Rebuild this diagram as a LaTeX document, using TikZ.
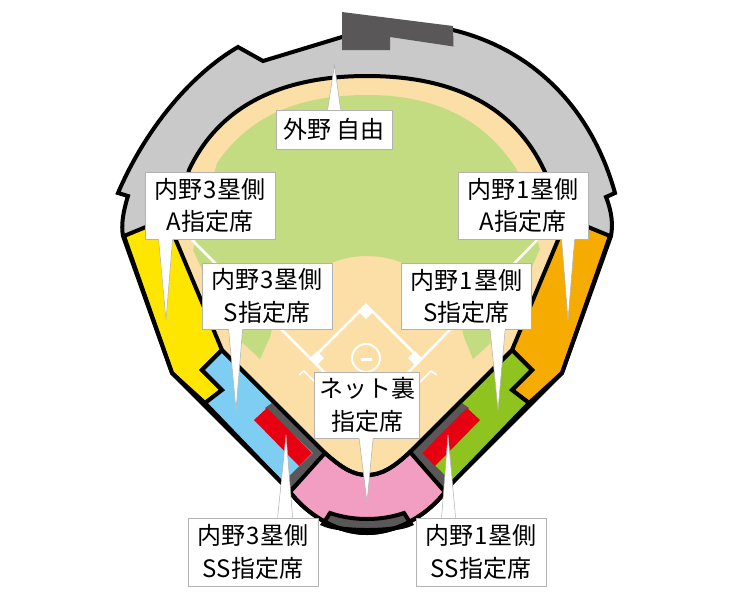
\documentclass[tikz,border=0pt]{standalone}
\usepackage{fontspec}
\setmainfont{Noto Sans CJK JP}
\usepackage{xcolor}
\usetikzlibrary{calc}

\definecolor{standgray}{HTML}{C9C9CA}
\definecolor{blockgray}{HTML}{595757}
\definecolor{dirt}{HTML}{FBDFA6}
\definecolor{grass}{HTML}{C3DC82}
\definecolor{seatyellow}{HTML}{FFE600}
\definecolor{seatorange}{HTML}{F6AB00}
\definecolor{seatblue}{HTML}{7ECEF4}
\definecolor{seatgreen}{HTML}{8FC31F}
\definecolor{seatred}{HTML}{E60012}
\definecolor{seatpink}{HTML}{F29EC2}

\tikzset{
    wall/.style={draw=black, line width=3pt, line join=miter},
    chalk/.style={draw=white, line width=1.9pt},
    seatbox/.style={rectangle, draw=black!30, fill=white, line width=0.6pt, inner sep=0pt, align=center,
        font=\fontsize{18}{24.5}\selectfont},
    tailline/.style={draw=black!30, line width=0.4pt, line join=miter}
}

\newcommand{\calltail}[5]{
    \fill[white] ($(#1.#2 west)+(#3,0)$) -- (#5) -- ($(#1.#2 west)+(#4,0)$) -- cycle;
    \draw[white, line width=1pt] ($(#1.#2 west)+(#3,0)$) -- ($(#1.#2 west)+(#4,0)$);
    \draw[tailline] ($(#1.#2 west)+(#3,0)$) -- (#5) -- ($(#1.#2 west)+(#4,0)$);
}
\newcommand{\seatdigit}[1]{\kern1pt#1\kern1pt}

\begin{document}
\begin{tikzpicture}[x=0.75pt, y=-0.75pt]
    \useasboundingbox (0,0) rectangle (732,597);

    \path[save path=\stadiumwall] (342,37) -- (263,61) -- (238,47)
        .. controls (190,75) and (145,130) .. (118,193)
        -- (128,196) .. controls (123,212) and (121,225) .. (123,236)
        -- (172,373) -- (282,483) -- (290,492)
        .. controls (310,518) and (340,533) .. (367,533)
        .. controls (394,533) and (425,518) .. (445,492)
        -- (452,483) -- (562,373) -- (611,236)
        .. controls (613,225) and (612,212) .. (606,197)
        -- (615,193) .. controls (592,110) and (535,50) .. (453,30)
        -- cycle;
    \path[save path=\fieldedge] (222,350) -- (175,238) -- (189,170)
        .. controls (222,100) and (290,76) .. (367,76)
        .. controls (444,76) and (512,100) .. (545,172)
        -- (558,240) -- (512,350) -- (410,452)
        .. controls (393,468) and (381,475) .. (367,475)
        .. controls (353,475) and (342,468) .. (325,453)
        -- cycle;

    \fill[standgray, use path=\stadiumwall];

    \draw[wall, fill=seatyellow] (124,236) -- (175,215) -- (222,350) -- (202,370) -- (222,390) -- (205,403) -- (172,373) -- cycle;
    \draw[wall, fill=seatorange] (610,236) -- (559,215) -- (512,350) -- (532,370) -- (512,390) -- (529,403) -- (562,373) -- cycle;
    \draw[wall, fill=seatblue] (222,350) -- (202,370) -- (222,390) -- (205,403) -- (282,483) -- (290,490) -- (325,453) -- cycle;
    \draw[wall, fill=seatgreen] (512,350) -- (532,370) -- (512,390) -- (529,403) -- (452,483) -- (445,490) -- (410,452) -- cycle;

    \fill[dirt, use path=\fieldedge];
    \fill[grass] (193,250) -- (217,163)
        .. controls (250,115) and (300,95) .. (367,95)
        .. controls (434,95) and (484,118) .. (517,170)
        -- (540,249) -- (503,332) -- (473,359) -- (464,337)
        .. controls (454,290) and (414,256) .. (367,256)
        .. controls (320,256) and (280,290) .. (270,337)
        -- (260,359) -- (231,332) -- cycle;

    \draw[chalk] (192,240) -- (367,415) -- (537,240);
    \draw[chalk] (313,358) -- (366,305) -- (419,358);
    \draw[chalk, line width=1.2pt] (299,375) -- (304,371) -- (318,385);
    \draw[chalk, line width=1.2pt] (437,375) -- (431,371) -- (417,385);
    \draw[chalk, line width=1.5pt] (366,358) circle (14);
    \fill[white] (360.5,357.5) rectangle (372,360.5);
    \fill[white] (366,305) -- (373,312) -- (366,319) -- (359,312) -- cycle;
    \fill[white] (317,351) -- (324,358) -- (317,365) -- (310,358) -- cycle;
    \fill[white] (415,351) -- (422,358) -- (415,365) -- (408,358) -- cycle;

    \fill[blockgray] (272,403) -- (325,453) -- (290,488) -- (284,481) -- (313,453) -- (265,408) -- cycle;
    \fill[blockgray] (462,403) -- (410,453) -- (445,488) -- (451,481) -- (422,453) -- (469,408) -- cycle;
    \fill[seatred] (267,408) -- (254,420) -- (299,466) -- (312,453) -- cycle;
    \fill[seatred] (467,408) -- (480,420) -- (435,466) -- (422,453) -- cycle;

    \draw[wall, fill=seatpink] (325,453)
        .. controls (342,468) and (353,475) .. (367,475)
        .. controls (381,475) and (393,468) .. (410,452)
        -- (445,492)
        .. controls (425,518) and (394,533) .. (367,533)
        .. controls (340,533) and (310,518) .. (290,492)
        -- cycle;
    \draw[wall, fill=blockgray] (330,513)
        .. controls (353,521) and (381,521) .. (404,513)
        -- (411,524)
        .. controls (395,532) and (339,532) .. (323,524)
        -- cycle;

    \draw[wall, use path=\fieldedge];
    \draw[wall, use path=\stadiumwall];

    \fill[blockgray] (342,12) -- (453,26) -- (453.5,46.5) -- (390,37) -- (390,50) -- (342,50) -- cycle;

    \coordinate (tipOutfield) at (334.5,65);
    \coordinate (tipA3) at (166,320);
    \coordinate (tipA1) at (568,320);
    \coordinate (tipS3) at (236,410);
    \coordinate (tipS1) at (498,410);
    \coordinate (tipNet) at (367,502);
    \coordinate (tipSS3) at (286,435);
    \coordinate (tipSS1) at (448,435);

    \node[seatbox, minimum width=87pt, minimum height=29.25pt] (boxOutfield) at (334,129.5) {外野 自由};
    \node[seatbox, minimum width=97.5pt, minimum height=50.25pt] (boxA3) at (210,205.5) {内野\seatdigit{3}塁側\\A指定席};
    \node[seatbox, minimum width=97.5pt, minimum height=50.25pt] (boxA1) at (523,205.5) {内野\seatdigit{1}塁側\\A指定席};
    \node[seatbox, minimum width=97.5pt, minimum height=49.5pt] (boxS3) at (267,296) {内野\seatdigit{3}塁側\\S指定席};
    \node[seatbox, minimum width=97.5pt, minimum height=49.5pt] (boxS1) at (466.5,296.5) {内野\seatdigit{1}塁側\\S指定席};
    \node[seatbox, minimum width=78.75pt, minimum height=49.5pt] (boxNet) at (367,405) {ネット裏\\指定席};
    \node[seatbox, minimum width=97.5pt, minimum height=51pt] (boxSS3) at (253,552) {内野\seatdigit{3}塁側\\SS指定席};
    \node[seatbox, minimum width=97.5pt, minimum height=51pt] (boxSS1) at (481,552) {内野\seatdigit{1}塁側\\SS指定席};

    \calltail{boxOutfield}{north}{52}{65}{tipOutfield}
    \calltail{boxA3}{south}{14}{28}{tipA3}
    \calltail{boxA1}{south}{104}{117}{tipA1}
    \calltail{boxS3}{south}{27}{41}{tipS3}
    \calltail{boxS1}{south}{89}{104}{tipS1}
    \calltail{boxNet}{south}{45}{59}{tipNet}
    \calltail{boxSS3}{north}{90}{105}{tipSS3}
    \calltail{boxSS1}{north}{26}{40}{tipSS1}
\end{tikzpicture}
\end{document}
